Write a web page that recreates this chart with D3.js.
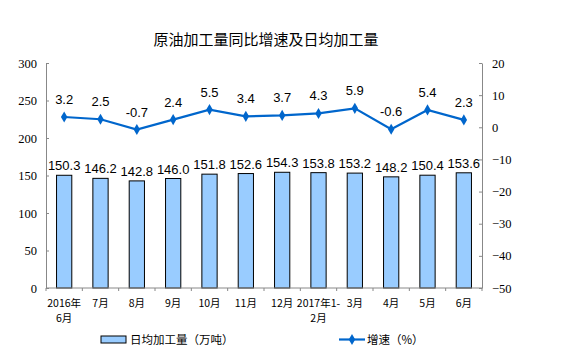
<!DOCTYPE html>
<html>
<head>
<meta charset="utf-8">
<script src="https://cdn.jsdelivr.net/npm/d3@7"></script>
<style>
  body { margin: 0; background: #fff; }
  text { font-family: "Liberation Sans", Arial, sans-serif; }
  text.cjk { font-family: "Noto Sans CJK SC", sans-serif; }
  .axis text { font-family: "Liberation Serif", "Times New Roman", serif; }
</style>
</head>
<body>
<svg id="chart"></svg>
<script>
const MONTHS = [["2016年", "6月"], ["7月"], ["8月"], ["9月"], ["10月"], ["11月"], ["12月"], ["2017年1-", "2月"], ["3月"], ["4月"], ["5月"], ["6月"]];
const DAILY = [150.3, 146.2, 142.8, 146.0, 151.8, 152.6, 154.3, 153.8, 153.2, 148.2, 150.4, 153.6];
const GROWTH = [3.2, 2.5, -0.7, 2.4, 5.5, 3.4, 3.7, 4.3, 5.9, -0.6, 5.4, 2.3];
const LEFT_TICKS = [0, 50, 100, 150, 200, 250, 300];
const RIGHT_TICKS = [-50, -40, -30, -20, -10, 0, 10, 20];

const WIDTH = 562;
const HEIGHT = 358;
const LEFT = 46, RIGHT = 482, TOP = 63, BOTTOM = 288;

let svg = d3.select("#chart")
    .attr("width", WIDTH)
    .attr("height", HEIGHT);

let xScale = d3.scaleBand()
    .domain(d3.range(MONTHS.length))
    .range([LEFT, RIGHT])
    .paddingInner(0.58)
    .paddingOuter(0.29);

let yLeft = d3.scaleLinear().domain([0, 300]).range([BOTTOM, TOP]);
let yRight = d3.scaleLinear().domain([-50, 20]).range([BOTTOM, TOP]);

// title
svg.append("text")
    .attr("class", "cjk")
    .attr("x", 266)
    .attr("y", 45)
    .attr("text-anchor", "middle")
    .attr("font-size", "15px")
    .attr("fill", "#000")
    .text("原油加工量同比增速及日均加工量");

// bars
svg.selectAll("rect.bar")
    .data(DAILY)
    .enter()
    .append("rect")
    .attr("class", "bar")
    .attr("x", function (d, i) { return xScale(i); })
    .attr("y", function (d) { return yLeft(d); })
    .attr("width", xScale.bandwidth())
    .attr("height", function (d) { return yLeft(0) - yLeft(d); })
    .style("fill", "#99CCFF")
    .style("stroke", "#000")
    .style("stroke-width", 1);

svg.selectAll("text.barlabel")
    .data(DAILY)
    .enter()
    .append("text")
    .attr("class", "barlabel")
    .attr("x", function (d, i) { return xScale(i) + xScale.bandwidth() / 2; })
    .attr("y", function (d) { return yLeft(d) - 5; })
    .attr("text-anchor", "middle")
    .attr("font-size", "13px")
    .text(function (d) { return d.toFixed(1); });

// axes
let leftAxis = d3.axisLeft(yLeft).tickValues(LEFT_TICKS).tickSizeInner(-3).tickSizeOuter(0).tickPadding(9);
let gl = svg.append("g").attr("class", "axis").attr("transform", "translate(" + LEFT + ",0)").call(leftAxis);

let rightAxis = d3.axisRight(yRight).tickValues(RIGHT_TICKS).tickSizeInner(-3).tickSizeOuter(0).tickPadding(10);
let gr = svg.append("g").attr("class", "axis").attr("transform", "translate(" + RIGHT + ",0)").call(rightAxis);

[gl, gr].forEach(function (g) {
    g.selectAll("path, line").attr("stroke", "#888");
    g.selectAll("text")
        .attr("font-size", "12.5px")
        .attr("fill", "#000");
});

// x axis line + ticks between categories
svg.append("line")
    .attr("x1", LEFT).attr("x2", RIGHT)
    .attr("y1", BOTTOM).attr("y2", BOTTOM)
    .attr("stroke", "#888");

let step = xScale.step();
svg.selectAll("line.xtick")
    .data(d3.range(MONTHS.length + 1))
    .enter()
    .append("line")
    .attr("class", "xtick")
    .attr("x1", function (d) { return LEFT + d * step; })
    .attr("x2", function (d) { return LEFT + d * step; })
    .attr("y1", BOTTOM)
    .attr("y2", BOTTOM + 3)
    .attr("stroke", "#888");

let xl = svg.selectAll("text.xlabel")
    .data(MONTHS)
    .enter()
    .append("text")
    .attr("class", "xlabel cjk")
    .attr("x", function (d, i) { return xScale(i) + xScale.bandwidth() / 2; })
    .attr("y", 307)
    .attr("text-anchor", "middle")
    .attr("font-size", "10.5px");
xl.selectAll("tspan")
    .data(function (d) { return d; })
    .enter()
    .append("tspan")
    .attr("x", function () { return d3.select(this.parentNode).attr("x"); })
    .attr("dy", function (d, i) { return i === 0 ? 0 : 15; })
    .text(function (d) { return d; });

// growth line
let line = d3.line()
    .x(function (d, i) { return xScale(i) + xScale.bandwidth() / 2; })
    .y(function (d) { return yRight(d); });

svg.append("path")
    .datum(GROWTH)
    .attr("d", line)
    .attr("fill", "none")
    .attr("stroke", "#0066CC")
    .attr("stroke-width", 2.2);

let diamond = d3.symbol().type(d3.symbolDiamond).size(36);
svg.selectAll("path.marker")
    .data(GROWTH)
    .enter()
    .append("path")
    .attr("class", "marker")
    .attr("d", diamond)
    .attr("transform", function (d, i) {
        return "translate(" + (xScale(i) + xScale.bandwidth() / 2) + "," + yRight(d) + ")";
    })
    .attr("fill", "#0066CC");

svg.selectAll("text.linelabel")
    .data(GROWTH)
    .enter()
    .append("text")
    .attr("class", "linelabel")
    .attr("x", function (d, i) { return xScale(i) + xScale.bandwidth() / 2; })
    .attr("y", function (d) { return yRight(d) - 13; })
    .attr("text-anchor", "middle")
    .attr("font-size", "13px")
    .text(function (d) { return d.toFixed(1); });

// legend
svg.append("rect")
    .attr("x", 101).attr("y", 336)
    .attr("width", 25).attr("height", 7)
    .style("fill", "#99CCFF")
    .style("stroke", "#000");
svg.append("text")
    .attr("class", "cjk")
    .attr("x", 130).attr("y", 344)
    .attr("font-size", "11.5px")
    .text("日均加工量（万吨）");

svg.append("line")
    .attr("x1", 339).attr("x2", 365)
    .attr("y1", 339.5).attr("y2", 339.5)
    .attr("stroke", "#0066CC")
    .attr("stroke-width", 2.2);
svg.append("path")
    .attr("d", diamond)
    .attr("transform", "translate(352,339.5)")
    .attr("fill", "#0066CC");
svg.append("text")
    .attr("class", "cjk")
    .attr("x", 367).attr("y", 344)
    .attr("font-size", "11.5px")
    .text("增速（%）");
</script>
</body>
</html>
